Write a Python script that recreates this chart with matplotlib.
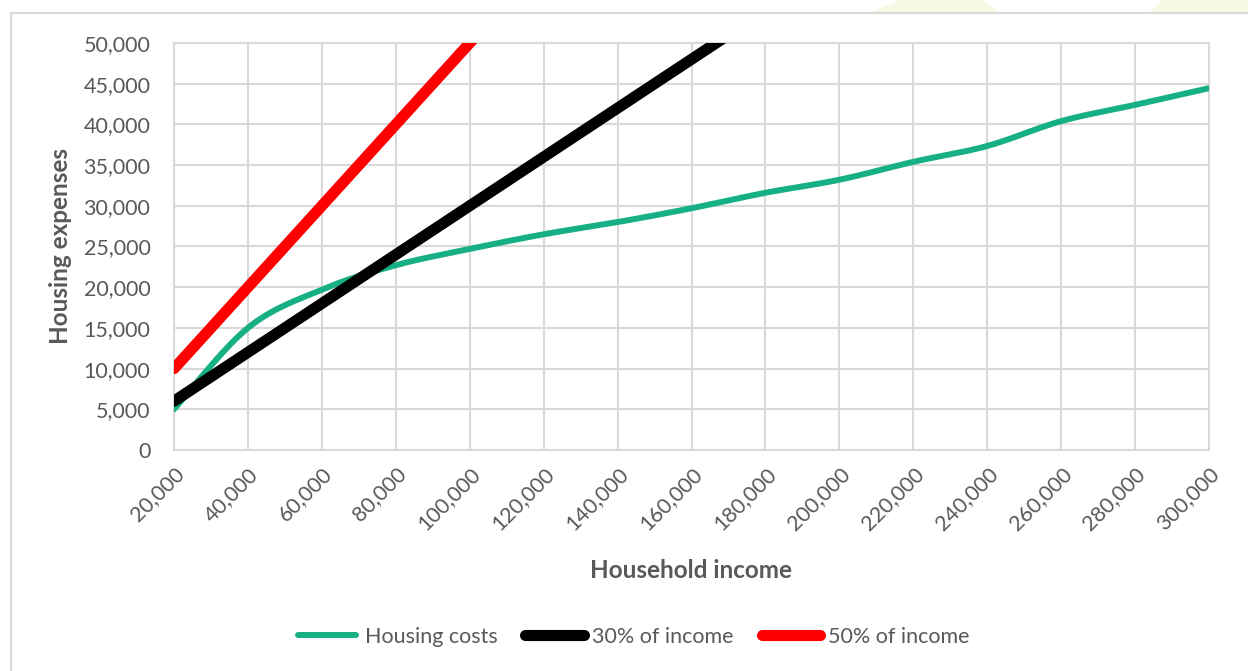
import numpy as np
import matplotlib
matplotlib.use('Agg')
import matplotlib.pyplot as plt
import matplotlib.ticker as mticker
from matplotlib.patches import Rectangle, Polygon

plt.rcParams['font.family'] = ['Lato', 'DejaVu Sans']

# --- data ---
income = [20000, 40000, 60000, 80000, 100000, 120000, 140000, 160000,
          180000, 200000, 220000, 240000, 260000, 280000, 300000]
housing_costs = [5000, 15000, 19700, 22700, 24700, 26500, 28000, 29700,
                 31600, 33200, 35400, 37350, 40400, 42400, 44450]
pct30 = [0.30 * v for v in income]
pct50 = [0.50 * v for v in income]

GREEN = '#17B084'
GRID = '#D9D9D9'
TXT = '#595959'


def smooth(xs, ys, n=30):
    """Excel-like smoothed line (Catmull-Rom -> cubic Bezier)."""
    xs = np.asarray(xs, float)
    ys = np.asarray(ys, float)
    px = np.concatenate([[xs[0]], xs, [xs[-1]]])
    py = np.concatenate([[ys[0]], ys, [ys[-1]]])
    ox, oy = [], []
    t = np.linspace(0, 1, n)
    for i in range(1, len(px) - 2):
        p0 = np.array([px[i], py[i]])
        p3 = np.array([px[i + 1], py[i + 1]])
        c1 = p0 + (p3 - np.array([px[i - 1], py[i - 1]])) / 6
        c2 = p3 - (np.array([px[i + 2], py[i + 2]]) - p0) / 6
        pts = ((1 - t)[:, None] ** 3 * p0 + 3 * ((1 - t) ** 2 * t)[:, None] * c1
               + 3 * ((1 - t) * t ** 2)[:, None] * c2 + (t ** 3)[:, None] * p3)
        ox.extend(pts[:, 0])
        oy.extend(pts[:, 1])
    return ox, oy


fig = plt.figure(figsize=(12.48, 6.71), dpi=100)

# faint background shapes and chart border
fig.patches.append(Polygon([[872/1248, 1-13/671], [999/1248, 1-13/671], [980/1248, 1.0], [900/1248, 1.0]],
                           closed=True, transform=fig.transFigure, color='#F6F9E4', zorder=-3))
fig.patches.append(Polygon([[1150/1248, 1-13/671], [1.0, 1-13/671], [1.0, 1.0], [1162/1248, 1.0]],
                           closed=True, transform=fig.transFigure, color='#F6F9E4', zorder=-3))
fig.patches.append(Rectangle((11/1248, -0.1), 1.2, 1.1 - 13/671, transform=fig.transFigure,
                             facecolor='white', edgecolor=GRID, linewidth=1.5, zorder=-2))

ax = fig.add_axes([174/1248, 1-450/671, (1209-174)/1248, (450-43)/671])
ax.set_facecolor('none')
ax.set_zorder(2)

gx, gy = smooth(income, housing_costs)
ax.plot(gx, gy, color=GREEN, linewidth=4.3, solid_capstyle='round', label='Housing costs', zorder=3)
ax.plot(income, pct30, color='black', linewidth=8, solid_capstyle='round', label='30% of income', zorder=3)
ax.plot(income, pct50, color='#FF0000', linewidth=8, solid_capstyle='round', label='50% of income', zorder=3)

ax.set_xlim(20000, 300000)
ax.set_ylim(0, 50000)
ax.set_xticks(income)
ax.set_yticks(range(0, 50001, 5000))
ax.xaxis.set_major_formatter(mticker.FuncFormatter(lambda v, _: f'{v:,.0f}'))
ax.yaxis.set_major_formatter(mticker.FuncFormatter(lambda v, _: f'{v:,.0f}'))
ax.grid(True, color=GRID, linewidth=1.5)
ax.set_axisbelow(True)
for s in ax.spines.values():
    s.set_color(GRID)
    s.set_linewidth(1.5)
ax.tick_params(length=0, labelsize=15.5, labelcolor=TXT)
ax.tick_params(axis='y', pad=17)
ax.tick_params(axis='x', pad=10)
for lbl in ax.get_xticklabels():
    lbl.set_rotation(45)
    lbl.set_ha('right')
    lbl.set_va('top')
    lbl.set_rotation_mode('anchor')

ax.set_ylabel('Housing expenses', fontsize=17.5, fontweight='bold', color=TXT, labelpad=8)
ax.set_xlabel('Household income', fontsize=17.5, fontweight='bold', color=TXT, labelpad=18)

leg = fig.legend(loc='center', bbox_to_anchor=(0.508, 1-637/671), ncol=3, frameon=False,
                 fontsize=15.5, handlelength=2.7, handletextpad=0.4, columnspacing=1.3,
                 labelcolor=TXT)
for h in leg.get_lines():
    h.set_solid_capstyle('round')

fig.savefig('out.png', dpi=100)
